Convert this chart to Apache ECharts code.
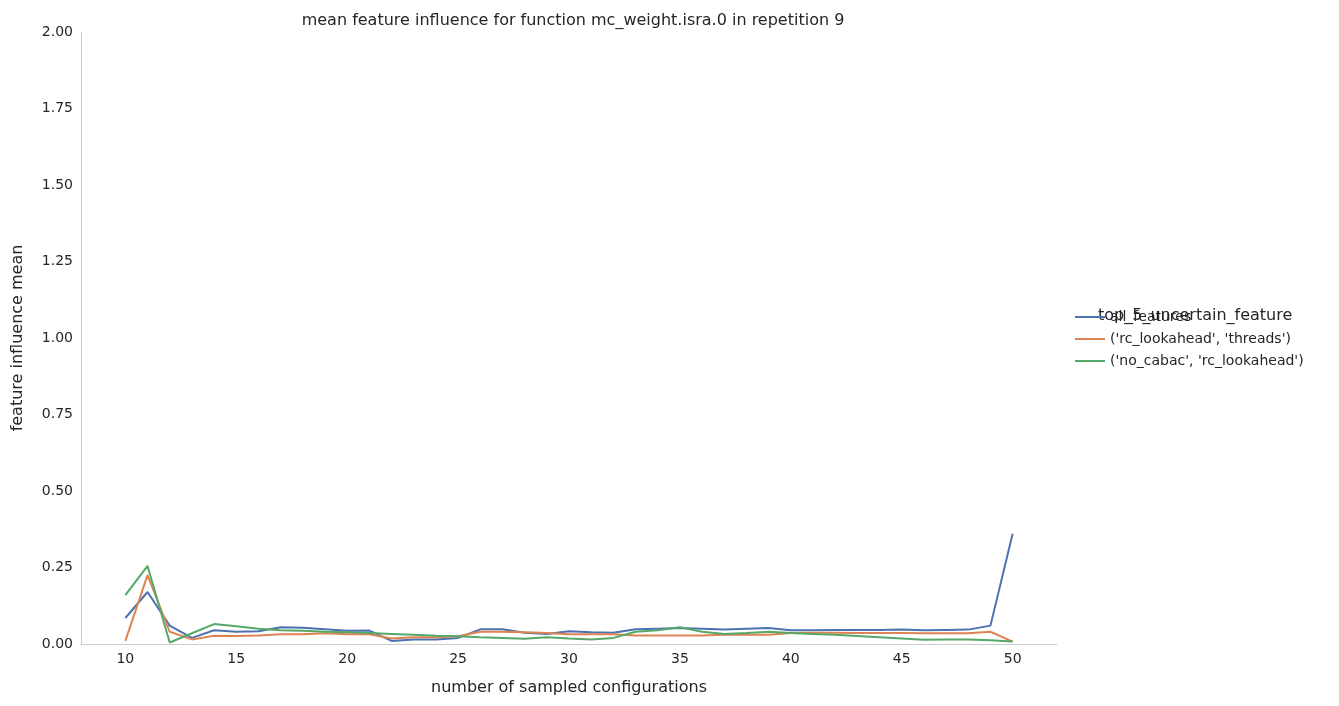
<!DOCTYPE html><html><head><meta charset="utf-8"><script src="https://cdn.jsdelivr.net/npm/echarts@6/dist/echarts.min.js"></script></head><body style="margin:0"><div id="c" style="width:1339px;height:706px"></div><script>
var xs=[];for(var i=10;i<=50;i++)xs.push(i);
var names=["all_features","('rc_lookahead', 'threads')","('no_cabac', 'rc_lookahead')"];
var blue=[0.085,0.17,0.06,0.02,0.045,0.04,0.042,0.055,0.053,0.048,0.043,0.044,0.01,0.015,0.015,0.02,0.048,0.048,0.037,0.033,0.042,0.038,0.037,0.048,0.05,0.052,0.05,0.047,0.05,0.052,0.045,0.045,0.046,0.046,0.046,0.047,0.045,0.046,0.047,0.06,0.36];
var orange=[0.01,0.225,0.04,0.015,0.027,0.026,0.028,0.032,0.032,0.035,0.032,0.032,0.018,0.022,0.022,0.025,0.04,0.04,0.038,0.036,0.032,0.032,0.032,0.028,0.028,0.028,0.028,0.03,0.03,0.03,0.036,0.037,0.037,0.036,0.036,0.036,0.035,0.035,0.035,0.04,0.008];
var green=[0.16,0.255,0.005,0.035,0.065,0.058,0.05,0.045,0.043,0.04,0.038,0.036,0.033,0.03,0.027,0.025,0.022,0.02,0.017,0.022,0.018,0.015,0.02,0.04,0.045,0.055,0.04,0.033,0.036,0.04,0.036,0.033,0.03,0.026,0.022,0.018,0.014,0.015,0.015,0.012,0.008];
var cols=['#4c72b0','#dd8452','#55a868'];
function mk(d){return xs.map(function(x,i){return [x,d[i]];});}
var f='"DejaVu Sans"';
echarts.init(document.getElementById('c')).setOption({
animation:false,
title:{text:'mean feature influence for function mc_weight.isra.0 in repetition 9',left:568,textAlign:'center',top:8,textStyle:{fontFamily:f,fontSize:16,fontWeight:'normal',color:'#262626'}},
legend:{orient:'vertical',left:1070,top:305,itemWidth:30,itemHeight:2,icon:'rect',itemGap:8,textStyle:{fontFamily:f,fontSize:14,color:'#262626'},data:names},
graphic:[{type:'text',left:1098,top:308,style:{text:'top_5_uncertain_feature',font:'16px "DejaVu Sans"',fill:'#262626'}}],
grid:{left:81,right:282,top:32,bottom:62},
xAxis:{type:'value',min:8,max:52,interval:1,name:'number of sampled configurations',nameLocation:'middle',nameGap:36,nameTextStyle:{fontFamily:f,fontSize:16,color:'#262626'},
axisLine:{lineStyle:{color:'#cccccc'}},axisTick:{show:false},splitLine:{show:false},
axisLabel:{fontFamily:f,fontSize:14,color:'#262626',formatter:function(v){return v%5===0?String(v):'';}}},
yAxis:{type:'value',min:0,max:2,interval:0.25,name:'feature influence mean',nameLocation:'middle',nameGap:55,nameTextStyle:{fontFamily:f,fontSize:16,color:'#262626'},
axisLine:{show:true,lineStyle:{color:'#cccccc'}},axisTick:{show:false},splitLine:{show:false},
axisLabel:{fontFamily:f,fontSize:14,color:'#262626',formatter:function(v){return v.toFixed(2);}}},
series:[blue,orange,green].map(function(d,i){return {name:names[i],type:'line',data:mk(d),showSymbol:false,lineStyle:{width:2,color:cols[i]},itemStyle:{color:cols[i]}};})
});
</script></body></html>
